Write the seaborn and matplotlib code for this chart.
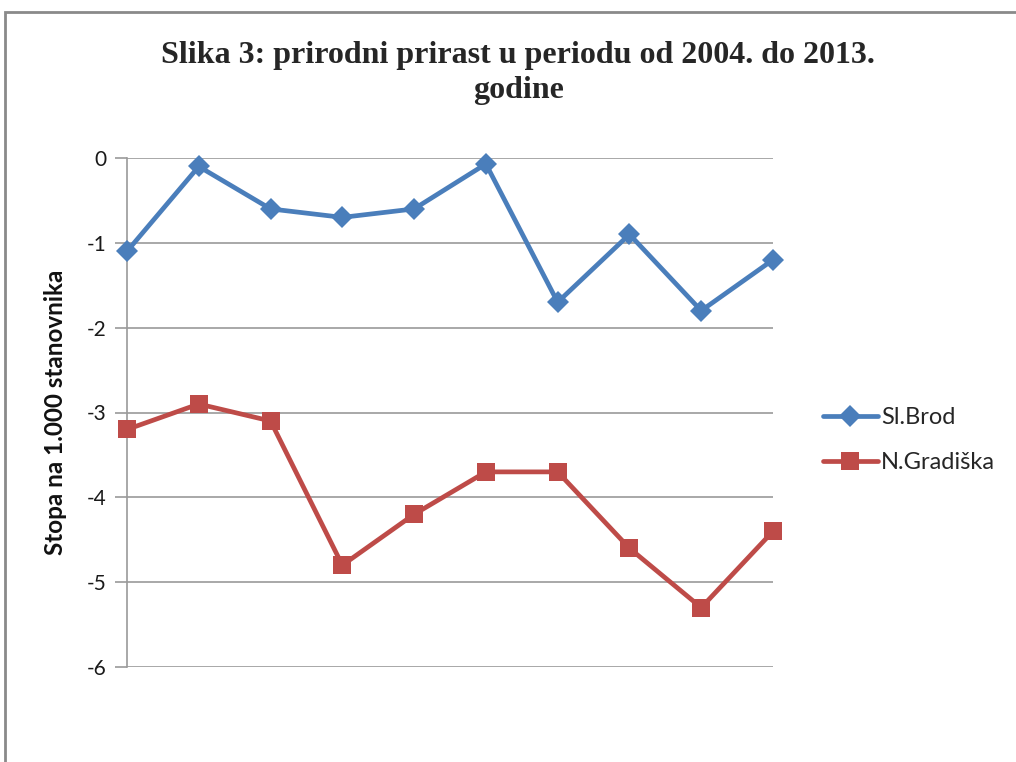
import numpy as np
import pandas as pd
import matplotlib
matplotlib.use("Agg")
import matplotlib.pyplot as plt
from matplotlib.patches import Rectangle
import seaborn as sns

years = [2004, 2005, 2006, 2007, 2008, 2009, 2010, 2011, 2012, 2013]
sl_brod = [-1.1, -0.1, -0.6, -0.7, -0.6, -0.07, -1.7, -0.9, -1.8, -1.2]
n_gradiska = [-3.2, -2.9, -3.1, -4.8, -4.2, -3.7, -3.7, -4.6, -5.3, -4.4]
series_names = ["Sl.Brod", "N.Gradiška"]
y_ticks = [0, -1, -2, -3, -4, -5, -6]
title = "Slika 3: prirodni prirast u periodu od 2004. do 2013.\ngodine"
ylabel = "Stopa na 1.000 stanovnika"

df = pd.DataFrame({
    "idx": list(range(len(years))) * 2,
    "value": sl_brod + n_gradiska,
    "series": [series_names[0]] * len(years) + [series_names[1]] * len(years),
})

sns.set_theme(style="white")
plt.rcParams["font.family"] = ["Lato", "DejaVu Sans"]

fig = plt.figure(figsize=(10.16, 7.62), dpi=100)
ax = fig.add_axes([127 / 1016, 1 - 667 / 762, (773 - 127) / 1016, (667 - 158) / 762])

palette = {series_names[0]: "#4A7EBB", series_names[1]: "#BE4B48"}
markers = {series_names[0]: "D", series_names[1]: "s"}
sns.lineplot(data=df, x="idx", y="value", hue="series", style="series",
             palette=palette, markers=markers, dashes=False, linewidth=3.4,
             markersize=11, markeredgewidth=0, ax=ax, legend=True, zorder=3)
for line in ax.get_lines():
    line.set_clip_on(False)
    if line.get_marker() == "s":
        line.set_markersize(13.5)

ax.set_xlim(0, 9)
ax.set_ylim(-6, 0)
ax.set_yticks(y_ticks)
ax.set_yticklabels([str(t) for t in y_ticks])
ax.set_xticks([])
ax.grid(axis="y", color="#9A9A9A", linewidth=1.2, zorder=0)
for s in ["top", "right", "bottom"]:
    ax.spines[s].set_visible(False)
ax.spines["left"].set_color("#9A9A9A")
ax.spines["left"].set_linewidth(1.2)
ax.tick_params(axis="y", which="major", left=True, length=9, width=1.2,
               color="#9A9A9A", labelsize=15, pad=6, labelcolor="#1a1a1a")
ax.set_xlabel("")
ax.set_ylabel(ylabel, fontsize=17.5, fontweight="bold", color="#111111", labelpad=14)

fig.text(0.51, 1 - 73 / 762, title, ha="center", va="center",
         fontsize=23, fontweight="bold", family=["Liberation Serif", "DejaVu Serif"],
         linespacing=1.3)

leg = ax.legend(loc="center left", bbox_to_anchor=(1.045, (667 - 440) / 509),
                frameon=False, fontsize=17, handlelength=2.3, labelspacing=1.0,
                handletextpad=0.15)
for h in leg.legend_handles:
    h.set_linewidth(3.4)

fig.patches.append(Rectangle((5 / 1016, -0.1), 1.2, 1.1 - 12 / 762,
                             transform=fig.transFigure, fill=False,
                             edgecolor="#8A8A8A", linewidth=2, figure=fig))

fig.savefig("out.png", dpi=100)
